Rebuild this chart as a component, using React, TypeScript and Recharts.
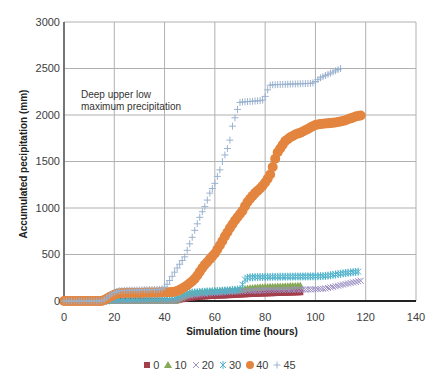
import { CartesianGrid, Scatter, ScatterChart, XAxis, YAxis } from "recharts";

const hours = [
  0, 1, 2, 3, 4, 5, 6, 7, 8, 9, 10, 11, 12, 13, 14, 15, 16, 17, 18, 19,
  20, 21, 22, 23, 24, 25, 26, 27, 28, 29, 30, 31, 32, 33, 34, 35, 36, 37, 38, 39,
  40, 41, 42, 43, 44, 45, 46, 47, 48, 49, 50, 51, 52, 53, 54, 55, 56, 57, 58, 59,
  60, 61, 62, 63, 64, 65, 66, 67, 68, 69, 70, 71, 72, 73, 74, 75, 76, 77, 78, 79,
  80, 81, 82, 83, 84, 85, 86, 87, 88, 89, 90, 91, 92, 93, 94, 95, 96, 97, 98, 99,
  100, 101, 102, 103, 104, 105, 106, 107, 108, 109, 110, 111, 112, 113, 114, 115, 116, 117, 118,
];

const xTicks = [0, 20, 40, 60, 80, 100, 120, 140];
const yTicks = [0, 500, 1000, 1500, 2000, 2500, 3000];

const s0 = [
  0, 0, 0, 0, 0, 0, 0, 0, 0, 0, 0, 0, 0, 0, 0, 0, 0, 0, 0, 0,
  0, 0, 0, 0, 0, 0, 0, 0, 0, 0, 0, 0, 0, 0, 0, 0, 0, 0, 0, 0,
  0, 0, 0, 0, 0, 8, 14, 20, 25, 30, 34, 37, 40, 43, 45, 47, 49, 51, 53, 55,
  56, 57, 58, 59, 60, 62, 63, 64, 66, 67, 69, 70, 72, 73, 75, 76, 77, 78, 79, 80,
  81, 82, 83, 84, 85, 86, 87, 88, 88, 89, 90, 91, 92, 93, 94,
];

const s10 = [
  0, 0, 0, 0, 0, 0, 0, 0, 0, 0, 0, 0, 0, 0, 0, 0, 0, 0, 0, 0,
  0, 0, 0, 0, 0, 0, 0, 0, 0, 0, 0, 0, 0, 0, 0, 0, 0, 0, 0, 0,
  0, 0, 0, 0, 0, 15, 30, 45, 58, 68, 75, 80, 84, 88, 91, 94, 96, 98, 100, 102,
  104, 105, 106, 108, 109, 110, 112, 113, 115, 117, 119, 122, 128, 134, 138, 141, 143, 145, 147, 149,
  150, 151, 152, 153, 154, 155, 156, 157, 158, 159, 160, 161, 162, 163, 164,
];

const s20 = [
  0, 0, 0, 0, 0, 0, 0, 0, 0, 0, 0, 0, 0, 0, 0, 0, 0, 0, 0, 0,
  0, 0, 0, 0, 0, 0, 0, 0, 0, 0, 0, 0, 0, 0, 0, 0, 0, 0, 0, 0,
  0, 0, 0, 0, 0, 10, 20, 30, 40, 48, 55, 60, 64, 68, 71, 74, 77, 80, 82, 84,
  86, 88, 90, 92, 94, 95, 97, 99, 101, 103, 104, 106, 107, 108, 109, 110, 111, 112, 113, 114,
  115, 116, 116, 117, 117, 118, 118, 119, 119, 120, 120, 121, 121, 122, 122, 123, 123, 124, 125, 126,
  127, 128, 130, 132, 135, 140, 146, 152, 158, 164, 170, 176, 182, 188, 194, 200, 206, 212, 218,
];

const s30 = [
  0, 0, 0, 0, 0, 0, 0, 0, 0, 0, 0, 0, 0, 0, 0, 0, 0, 0, 6, 12,
  18, 22, 24, 25, 25, 26, 26, 27, 27, 28, 28, 29, 29, 30, 30, 31, 31, 32, 32, 33,
  33, 34, 35, 37, 42, 50, 60, 70, 78, 84, 88, 91, 93, 95, 97, 99, 100, 102, 103, 105,
  106, 108, 109, 111, 112, 114, 116, 118, 120, 123, 128, 175, 230, 250, 255, 256, 257, 257, 258, 258,
  259, 259, 259, 260, 260, 260, 261, 261, 261, 262, 262, 262, 263, 263, 263, 264, 264, 264, 265, 265,
  266, 266, 267, 268, 270, 273, 277, 281, 285, 289, 293, 297, 301, 304, 307, 310, 313, 316,
];

const s40 = [
  0, 0, 0, 0, 0, 0, 0, 0, 0, 0, 0, 0, 0, 0, 0, 0, 10, 25, 40, 55,
  68, 78, 84, 86, 87, 88, 88, 89, 89, 90, 90, 90, 91, 91, 91, 92, 92, 92, 93, 93,
  94, 94, 95, 97, 100, 108, 120, 135, 150, 170, 190, 212, 240, 275, 315, 355, 390, 420, 450, 480,
  510, 555, 600, 645, 695, 740, 785, 825, 865, 900, 935, 970, 1020, 1065, 1100, 1130, 1160, 1185, 1210, 1240,
  1275, 1315, 1360, 1440, 1530, 1600, 1640, 1680, 1720, 1740, 1760, 1775, 1790, 1800, 1810, 1822, 1836, 1850, 1866, 1880,
  1892, 1898, 1902, 1905, 1908, 1910, 1913, 1916, 1920, 1925, 1930, 1936, 1944, 1954, 1964, 1974, 1984, 1990, 1995,
];

const s45 = [
  0, 0, 0, 0, 0, 0, 0, 0, 0, 0, 0, 0, 0, 0, 0, 0, 15, 35, 55, 75,
  92, 104, 110, 112, 113, 114, 115, 116, 117, 118, 118, 119, 120, 120, 121, 122, 122, 123, 125, 130,
  150, 180, 220, 265, 310, 355, 395, 435, 475, 545, 615, 685, 760, 830, 900, 960, 1015, 1085, 1160, 1210,
  1265, 1340, 1410, 1500, 1570, 1640, 1730, 1880, 1970, 2060, 2135, 2140, 2142, 2144, 2146, 2148, 2150, 2152, 2155, 2160,
  2200, 2270, 2320, 2325, 2326, 2327, 2328, 2329, 2330, 2331, 2332, 2333, 2334, 2335, 2336, 2337, 2338, 2339, 2340, 2345,
  2360, 2380, 2400, 2412, 2425, 2438, 2450, 2462, 2475, 2488, 2500,
];

type Kind = "square" | "triangle" | "x" | "star" | "circle" | "plus";

const seriesDefs: { name: string; values: number[]; color: string; kind: Kind }[] = [
  { name: "0", values: s0, color: "#A43E4B", kind: "square" },
  { name: "10", values: s10, color: "#86A957", kind: "triangle" },
  { name: "20", values: s20, color: "#9C8FC4", kind: "x" },
  { name: "30", values: s30, color: "#4FB3CC", kind: "star" },
  { name: "40", values: s40, color: "#E3853F", kind: "circle" },
  { name: "45", values: s45, color: "#9AB2CF", kind: "plus" },
];

function Marker({ kind, color, cx, cy, small }: { kind: Kind; color: string; cx: number; cy: number; small?: boolean }) {
  if (kind === "square")
    return <rect x={cx - 3} y={cy - 3} width={6} height={6} fill={color} />;
  if (kind === "triangle")
    return <polygon points={`${cx},${cy - 4} ${cx + 4},${cy + 3} ${cx - 4},${cy + 3}`} fill={color} />;
  if (kind === "circle") return <circle cx={cx} cy={cy} r={small ? 4 : 5} fill={color} />;
  if (kind === "plus")
    return (
      <path d={`M${cx - 3.5},${cy}H${cx + 3.5}M${cx},${cy - 3.5}V${cy + 3.5}`} stroke={color} strokeWidth={1} fill="none" />
    );
  if (kind === "x")
    return (
      <path d={`M${cx - 3},${cy - 3}L${cx + 3},${cy + 3}M${cx - 3},${cy + 3}L${cx + 3},${cy - 3}`} stroke={color} strokeWidth={1} fill="none" />
    );
  return (
    <path
      d={`M${cx - 3},${cy - 3}L${cx + 3},${cy + 3}M${cx - 3},${cy + 3}L${cx + 3},${cy - 3}M${cx},${cy - 4}V${cy + 4}`}
      stroke={color}
      strokeWidth={1}
      fill="none"
    />
  );
}

const font = "'Liberation Sans', Arial, sans-serif";

export default function App() {
  return (
    <div style={{ position: "absolute", left: 0, top: 0, width: 442, height: 383, background: "#fff", fontFamily: font }}>
      <ScatterChart width={442} height={383} margin={{ top: 22, right: 26, bottom: 52, left: 24 }}>
        <CartesianGrid stroke="#b0b0b0" strokeWidth={1} />
        <XAxis
          type="number"
          dataKey="x"
          domain={[0, 140]}
          ticks={xTicks}
          tickSize={0}
          tickMargin={12}
          height={30}
          axisLine={{ stroke: "#222", strokeWidth: 2 }}
          tick={{ fill: "#404040", fontSize: 11, fontFamily: font }}
        />
        <YAxis
          type="number"
          dataKey="y"
          domain={[0, 3000]}
          ticks={yTicks}
          width={40}
          tickSize={0}
          tickMargin={4}
          axisLine={{ stroke: "#555", strokeWidth: 1.5 }}
          tick={{ fill: "#404040", fontSize: 11, fontFamily: font }}
        />
        {seriesDefs.map((s) => (
          <Scatter
            key={s.name}
            name={s.name}
            data={s.values.map((v, i) => ({ x: hours[i], y: v }))}
            isAnimationActive={false}
            shape={(p: any) => <Marker kind={s.kind} color={s.color} cx={p.cx} cy={p.cy} />}
          />
        ))}
      </ScatterChart>

      <div style={{ position: "absolute", left: 81, top: 89, fontSize: 10, lineHeight: "12.3px", color: "#333" }}>
        Deep upper low
        <br />
        maximum precipitation
      </div>

      <div
        style={{
          position: "absolute",
          left: 242,
          top: 331,
          transform: "translate(-50%, -50%)",
          fontSize: 10,
          fontWeight: "bold",
          color: "#222",
          whiteSpace: "nowrap",
        }}
      >
        Simulation time (hours)
      </div>

      <div
        style={{
          position: "absolute",
          left: 23,
          top: 164,
          transform: "translate(-50%, -50%) rotate(-90deg)",
          fontSize: 10,
          fontWeight: "bold",
          color: "#222",
          whiteSpace: "nowrap",
        }}
      >
        Accumulated pecipitation (mm)
      </div>

      <div
        style={{
          position: "absolute",
          left: 0,
          top: 357,
          width: 442,
          display: "flex",
          justifyContent: "center",
          fontSize: 11,
          color: "#404040",
          lineHeight: "16px",
        }}
      >
        {seriesDefs.map((s) => (
          <div key={s.name} style={{ display: "flex", alignItems: "center", marginRight: 4 }}>
            <svg width={10} height={10} style={{ marginRight: 1 }}>
              <Marker kind={s.kind} color={s.color} cx={5} cy={5} small />
            </svg>
            <span>{s.name}</span>
          </div>
        ))}
      </div>
    </div>
  );
}
